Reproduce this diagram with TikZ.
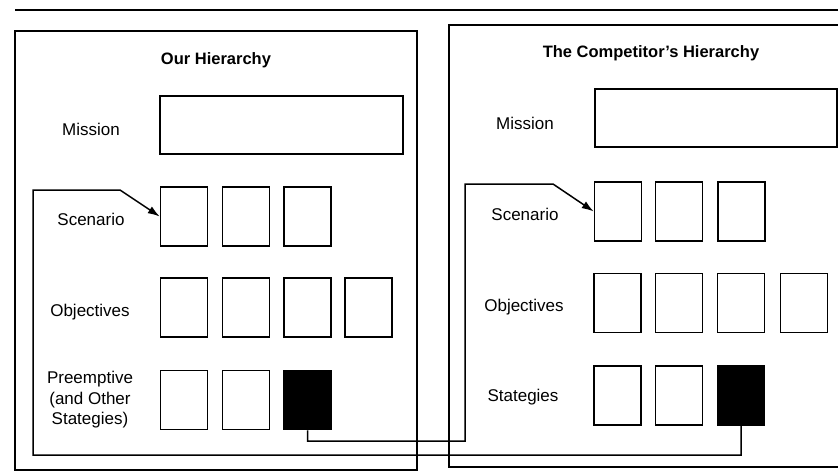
\documentclass[tikz,border=0pt]{standalone}
\usepackage{fontspec}
\setmainfont{Liberation Sans}
\usetikzlibrary{arrows.meta}
\tikzset{
  panel/.style={draw, line width=1.5pt},
  cell/.style={draw, line width=1.5pt, fill=white, minimum width=47pt, minimum height=59pt, inner sep=0pt},
  cellfill/.style={cell, fill=black},
  widebox/.style={draw, line width=1.5pt, minimum width=243pt, minimum height=58pt, inner sep=0pt},
  levellabel/.style={font=\fontsize{17}{20.5}\selectfont, align=center, inner sep=0pt},
  paneltitle/.style={font=\fontsize{16.5}{20}\selectfont\bfseries, inner sep=0pt},
  flowarrow/.style={-{Latex[length=12pt,width=8pt]}, line width=1.5pt}
}

\begin{document}
\begin{tikzpicture}[x=1pt, y=-1pt]
  \clip (0,0) rectangle (838,472);
  \fill[white] (0,0) rectangle (838,472);

  % rule and the two panels
  \draw[line width=1.5pt] (15,10) -- (838,10);
  \draw[panel] (15,31) rectangle (417,470);
  \draw[panel] (449,25) rectangle (850,467);

  % our hierarchy
  \node[paneltitle] (ourTitle) at (216,60) {Our Hierarchy};
  \node[levellabel] (ourMissionLbl) at (91,129) {Mission};
  \node[widebox] (ourMission) at (281.5,125) {};
  \node[levellabel] (ourScenLbl) at (91,219) {Scenario};
  \node[cell] (ourScen1) at (184,216.5) {};
  \node[cell] (ourScen2) at (246,216.5) {};
  \node[cell] (ourScen3) at (307.5,216.5) {};
  \node[levellabel] (ourObjLbl) at (90,312) {Objectives};
  \node[cell] (ourObj1) at (184,307.5) {};
  \node[cell] (ourObj2) at (246,307.5) {};
  \node[cell] (ourObj3) at (307.5,307.5) {};
  \node[cell] (ourObj4) at (368.5,307.5) {};
  \node[levellabel] (ourStratLbl) at (90,400) {Preemptive\\(and Other\\Stategies)};
  \node[cell] (ourStrat1) at (184,400) {};
  \node[cell] (ourStrat2) at (246,400) {};
  \node[cellfill] (ourStrat3) at (307.5,400) {};

  % the competitor's hierarchy
  \node[paneltitle] (compTitle) at (651,53) {The Competitor's Hierarchy};
  \node[levellabel] (compMissionLbl) at (525,123) {Mission};
  \node[widebox, minimum width=242pt] (compMission) at (716,118) {};
  \node[levellabel] (compScenLbl) at (525,214) {Scenario};
  \node[cell] (compScen1) at (618,211.5) {};
  \node[cell] (compScen2) at (679,211.5) {};
  \node[cell] (compScen3) at (741.5,211.5) {};
  \node[levellabel] (compObjLbl) at (524,307) {Objectives};
  \node[cell] (compObj1) at (617.5,303) {};
  \node[cell] (compObj2) at (679,303) {};
  \node[cell] (compObj3) at (741,303) {};
  \node[cell] (compObj4) at (804,303) {};
  \node[levellabel] (compStratLbl) at (523,397) {Stategies};
  \node[cell] (compStrat1) at (617.5,395.5) {};
  \node[cell] (compStrat2) at (679,395.5) {};
  \node[cellfill] (compStrat3) at (741,395.5) {};

  % each side's strategy feeds the other side's scenario
  \draw[flowarrow] (compStrat3.south) |- (33,455) -- (33,190) -- (120,190) -- (ourScen1.west);
  \draw[flowarrow] (ourStrat3.south) |- (465,441) -- (465,184) -- (553,184) -- (compScen1.west);
\end{tikzpicture}
\end{document}
